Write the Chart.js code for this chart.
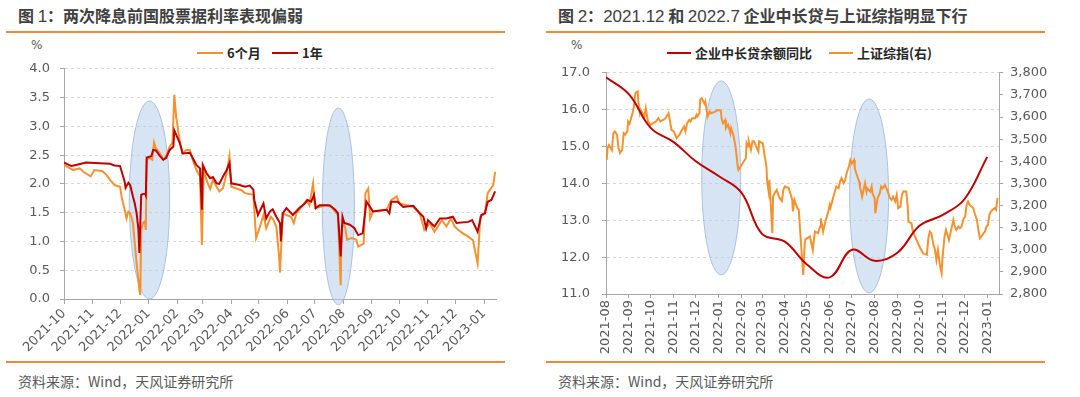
<!DOCTYPE html>
<html>
<head>
<meta charset="utf-8">
<script src="https://cdn.jsdelivr.net/npm/chart.js@4.4.0/dist/chart.umd.min.js"></script>
<style>
  body { margin:0; width:1080px; height:397px; background:#fff; position:relative; overflow:hidden;
         font-family:"Noto Sans CJK SC", sans-serif; }
  .title { position:absolute; top:4px; font-size:16px; font-weight:700; color:#3f3f3f; white-space:nowrap; line-height:22px; }
  .title .num { font-family:"Liberation Sans", sans-serif; font-weight:400; font-size:17px; }
  .rule { position:absolute; height:2px; background:#f0883a; }
  .src { position:absolute; top:371px; font-size:14px; color:#595959; white-space:nowrap; }
  .unit { position:absolute; top:38px; font-size:12px; color:#595959; font-family:"DejaVu Sans", sans-serif; }
  .lg { position:absolute; top:44px; font-size:13px; font-weight:700; color:#262626; white-space:nowrap;
        display:flex; align-items:center; line-height:18px; }
  .lg i { display:inline-block; width:26px; height:2px; margin-right:4px; }
  canvas { position:absolute; }
</style>
</head>
<body>
<div class="title" style="left:18px">图 <span class="num">1</span>：两次降息前国股票据利率表现偏弱</div>
<div class="title" style="left:558px">图 <span class="num">2</span>：<span class="num">2021.12</span> 和 <span class="num">2022.7</span> 企业中长贷与上证综指明显下行</div>
<div class="rule" style="left:6px;width:499px;top:31px"></div>
<div class="rule" style="left:546px;width:499px;top:31px"></div>

<div class="unit" style="left:31px">%</div>
<div class="unit" style="left:571px">%</div>
<div class="lg" style="left:197px"><i style="background:#f5922f"></i>6个月</div>
<div class="lg" style="left:272px"><i style="background:#c00000"></i>1年</div>
<div class="lg" style="left:667px"><i style="background:#c00000;width:24px"></i>企业中长贷余额同比</div>
<div class="lg" style="left:829px"><i style="background:#f5922f;width:24px"></i>上证综指(右)</div>

<canvas id="rates" width="540" height="309" style="left:0;top:51px"></canvas>
<canvas id="loans" width="540" height="307" style="left:540px;top:53px"></canvas>

<div class="rule" style="left:6px;width:499px;top:361px"></div>
<div class="rule" style="left:546px;width:499px;top:361px"></div>
<div class="src" style="left:18px">资料来源：Wind，天风证券研究所</div>
<div class="src" style="left:558px">资料来源：Wind，天风证券研究所</div>

<script>
// ---- 图1 data: 国股票据利率 (%) ----
const sixMonthDates = ['2021-10-01','2021-10-11','2021-10-18','2021-10-22','2021-10-30','2021-11-03','2021-11-12','2021-11-16','2021-11-20','2021-11-25',
  '2021-12-01','2021-12-03','2021-12-06','2021-12-08','2021-12-10','2021-12-12','2021-12-15','2021-12-17','2021-12-19','2021-12-22',
  '2021-12-23','2021-12-24','2021-12-26','2021-12-28','2021-12-29','2021-12-30','2022-01-02','2022-01-05','2022-01-07','2022-01-09',
  '2022-01-13','2022-01-17','2022-01-20','2022-01-24','2022-01-27','2022-01-29','2022-01-31','2022-02-04','2022-02-07','2022-02-11',
  '2022-02-15','2022-02-18','2022-02-22','2022-02-26','2022-02-28','2022-03-02','2022-03-05','2022-03-09','2022-03-12','2022-03-16',
  '2022-03-19','2022-03-23','2022-03-27','2022-03-30','2022-04-01','2022-04-12','2022-04-16','2022-04-25','2022-04-28','2022-05-01',
  '2022-05-06','2022-05-09','2022-05-14','2022-05-17','2022-05-20','2022-05-23','2022-05-24','2022-05-27','2022-05-31','2022-06-05',
  '2022-06-08','2022-06-11','2022-06-14','2022-06-22','2022-06-25','2022-06-29','2022-07-01','2022-07-06','2022-07-13','2022-07-19',
  '2022-07-23','2022-07-26','2022-07-29','2022-07-30','2022-08-01','2022-08-03','2022-08-05','2022-08-10','2022-08-15','2022-08-17',
  '2022-08-23','2022-08-25','2022-08-28','2022-08-30','2022-09-02','2022-09-17','2022-09-22','2022-09-28','2022-10-01','2022-10-16',
  '2022-10-23','2022-10-28','2022-11-03','2022-11-08','2022-11-16','2022-11-21','2022-11-26','2022-11-30','2022-12-04','2022-12-09',
  '2022-12-15','2022-12-20','2022-12-22','2022-12-25','2022-12-28','2023-01-02','2023-01-05','2023-01-11','2023-01-13'];
const sixMonthRates = [2.33,2.24,2.27,2.21,2.13,2.24,2.22,2.16,2.07,1.98,
  1.95,1.75,1.55,1.40,1.52,1.49,1.32,0.97,0.62,0.16,
  0.07,1.20,1.32,1.35,1.20,2.42,2.45,2.42,2.72,2.62,
  2.54,2.42,2.48,2.65,2.71,3.55,3.17,2.74,2.53,2.59,
  2.59,2.42,2.24,2.13,0.94,2.24,2.07,1.91,2.07,1.95,
  1.87,1.93,2.19,2.48,1.95,1.89,1.84,1.81,1.06,1.20,
  1.46,1.23,1.43,1.37,1.26,0.74,0.46,1.49,1.46,1.43,
  1.32,1.49,1.55,1.72,1.63,2.01,1.58,1.60,1.63,1.60,
  1.52,1.46,0.24,1.20,1.32,1.23,1.03,1.06,1.03,0.91,
  0.96,1.84,1.92,1.40,1.52,1.55,1.72,1.78,1.66,1.60,
  1.49,1.20,1.32,1.17,1.37,1.26,1.40,1.26,1.20,1.14,
  1.08,1.02,0.85,0.62,1.43,1.49,1.84,1.98,2.21];

const oneYearDates = ['2021-10-01','2021-10-09','2021-10-14','2021-10-25','2021-11-09','2021-11-20','2021-11-25','2021-12-01','2021-12-06','2021-12-07',
  '2021-12-10','2021-12-12','2021-12-15','2021-12-17','2021-12-19','2021-12-21','2021-12-22','2021-12-24','2021-12-28','2021-12-29',
  '2021-12-30','2022-01-04','2022-01-06','2022-01-09','2022-01-13','2022-01-17','2022-01-20','2022-01-24','2022-01-28','2022-01-29',
  '2022-02-04','2022-02-07','2022-02-15','2022-02-18','2022-02-22','2022-02-26','2022-02-28','2022-03-01','2022-03-05','2022-03-09',
  '2022-03-12','2022-03-16','2022-03-19','2022-03-23','2022-03-27','2022-03-30','2022-04-01','2022-04-10','2022-04-16','2022-04-21',
  '2022-04-25','2022-04-26','2022-04-30','2022-05-06','2022-05-09','2022-05-13','2022-05-16','2022-05-20','2022-05-24','2022-05-25',
  '2022-05-27','2022-05-31','2022-06-07','2022-06-14','2022-06-20','2022-06-23','2022-06-27','2022-06-30','2022-07-02','2022-07-06',
  '2022-07-17','2022-07-23','2022-07-26','2022-07-29','2022-07-31','2022-08-02','2022-08-08','2022-08-13','2022-08-17','2022-08-22',
  '2022-08-26','2022-08-30','2022-09-02','2022-09-17','2022-09-20','2022-09-22','2022-09-29','2022-10-05','2022-10-16','2022-10-23',
  '2022-10-27','2022-10-30','2022-11-01','2022-11-08','2022-11-14','2022-11-21','2022-11-28','2022-12-02','2022-12-15','2022-12-19',
  '2022-12-25','2022-12-29','2023-01-02','2023-01-05','2023-01-09','2023-01-13'];
const oneYearRates = [2.37,2.31,2.33,2.37,2.36,2.35,2.32,2.31,2.04,1.93,
  2.02,1.98,1.78,1.66,1.49,1.20,0.80,1.81,1.84,1.80,
  2.46,2.48,2.59,2.58,2.49,2.42,2.45,2.59,2.65,2.93,
  2.71,2.53,2.54,2.45,2.33,2.27,1.55,2.33,2.19,2.10,
  2.12,2.01,2.00,2.13,2.24,2.36,2.01,1.98,1.95,1.97,
  1.90,1.72,1.46,1.66,1.40,1.52,1.56,1.43,1.32,1.00,
  1.49,1.58,1.46,1.58,1.66,1.72,1.69,1.81,1.58,1.63,
  1.63,1.55,1.49,0.74,1.43,1.32,1.29,1.23,1.11,1.14,
  1.69,1.60,1.52,1.55,1.49,1.69,1.69,1.60,1.62,1.49,
  1.43,1.23,1.37,1.26,1.40,1.40,1.43,1.32,1.34,1.37,
  1.17,1.46,1.49,1.69,1.72,1.87];

const rateMonths = ['2021-10','2021-11','2021-12','2022-01','2022-02','2022-03','2022-04','2022-05',
  '2022-06','2022-07','2022-08','2022-09','2022-10','2022-11','2022-12','2023-01'];
const rateHighlights = [
  { from:'2021-12-11', to:'2022-01-24', low:0, high:3.44 },
  { from:'2022-07-09', to:'2022-08-13', low:-0.1, high:3.32 }
];

// ---- 图2 data ----
const loanMonths = ['2021-08','2021-09','2021-10','2021-11','2021-12','2022-01','2022-02','2022-03','2022-04',
  '2022-05','2022-06','2022-07','2022-08','2022-09','2022-10','2022-11','2022-12','2023-01'];
const loanGrowth = [16.88,16.42,15.50,15.12,14.60,14.20,13.75,12.63,12.42,
  11.80,11.45,12.20,11.90,12.12,12.85,13.14,13.57,14.72];

const sseDates = ['2021-08-02','2021-08-03','2021-08-05','2021-08-09','2021-08-11','2021-08-13','2021-08-16','2021-08-18','2021-08-20','2021-08-23',
  '2021-08-25','2021-08-27','2021-08-30','2021-08-31','2021-09-02','2021-09-06','2021-09-08','2021-09-10','2021-09-13','2021-09-14',
  '2021-09-16','2021-09-17','2021-09-22','2021-09-24','2021-09-27','2021-09-29','2021-09-30','2021-10-08','2021-10-11','2021-10-14',
  '2021-10-18','2021-10-21','2021-10-25','2021-10-27','2021-10-29','2021-11-01','2021-11-03','2021-11-05','2021-11-09','2021-11-11',
  '2021-11-15','2021-11-17','2021-11-19','2021-11-22','2021-11-24','2021-11-26','2021-11-30','2021-12-02','2021-12-03','2021-12-06',
  '2021-12-07','2021-12-09','2021-12-13','2021-12-14','2021-12-16','2021-12-17','2021-12-20','2021-12-22','2021-12-24','2021-12-28',
  '2021-12-30','2022-01-04','2022-01-05','2022-01-07','2022-01-10','2022-01-11','2022-01-14','2022-01-17','2022-01-18','2022-01-21',
  '2022-01-24','2022-01-25','2022-01-27','2022-01-28','2022-02-07','2022-02-08','2022-02-10','2022-02-11','2022-02-14','2022-02-16',
  '2022-02-18','2022-02-21','2022-02-24','2022-02-25','2022-02-28','2022-03-02','2022-03-04','2022-03-07','2022-03-08','2022-03-10',
  '2022-03-11','2022-03-15','2022-03-16','2022-03-18','2022-03-21','2022-03-23','2022-03-25','2022-03-28','2022-03-30','2022-04-01',
  '2022-04-06','2022-04-08','2022-04-11','2022-04-12','2022-04-14','2022-04-18','2022-04-20','2022-04-22','2022-04-26','2022-04-28',
  '2022-04-29','2022-05-05','2022-05-09','2022-05-11','2022-05-12','2022-05-16','2022-05-19','2022-05-20','2022-05-23','2022-05-26',
  '2022-05-30','2022-06-01','2022-06-02','2022-06-06','2022-06-08','2022-06-10','2022-06-13','2022-06-15','2022-06-17','2022-06-20',
  '2022-06-22','2022-06-24','2022-06-27','2022-06-29','2022-07-01','2022-07-04','2022-07-05','2022-07-07','2022-07-11','2022-07-12',
  '2022-07-15','2022-07-18','2022-07-19','2022-07-21','2022-07-22','2022-07-26','2022-07-28','2022-07-29','2022-08-01','2022-08-02',
  '2022-08-05','2022-08-08','2022-08-10','2022-08-12','2022-08-15','2022-08-18','2022-08-22','2022-08-24','2022-08-26','2022-08-29',
  '2022-08-31','2022-09-02','2022-09-05','2022-09-07','2022-09-09','2022-09-13','2022-09-15','2022-09-16','2022-09-20','2022-09-22',
  '2022-09-26','2022-09-28','2022-10-02','2022-10-06','2022-10-11','2022-10-13','2022-10-15','2022-10-17','2022-10-20','2022-10-22',
  '2022-10-24','2022-10-26','2022-10-29','2022-10-31','2022-11-01','2022-11-04','2022-11-06','2022-11-08','2022-11-10','2022-11-13',
  '2022-11-16','2022-11-18','2022-11-20','2022-11-23','2022-11-25','2022-11-27','2022-11-30','2022-12-02','2022-12-04','2022-12-06',
  '2022-12-08','2022-12-11','2022-12-13','2022-12-15','2022-12-18','2022-12-20','2022-12-22','2022-12-24','2022-12-27','2022-12-29',
  '2022-12-31','2023-01-02','2023-01-04','2023-01-06','2023-01-08','2023-01-11','2023-01-13','2023-01-15'];
const sseClose = [3406,3459,3473,3451,3527,3535,3520,3460,3437,3451,
  3527,3520,3535,3580,3570,3618,3648,3708,3716,3670,
  3618,3633,3602,3640,3580,3572,3565,3580,3595,3580,
  3588,3595,3618,3580,3542,3535,3520,3505,3520,3535,
  3557,3535,3570,3587,3580,3595,3595,3610,3602,3618,
  3678,3685,3660,3670,3625,3602,3625,3617,3620,3625,
  3632,3630,3595,3572,3587,3550,3565,3527,3550,3520,
  3467,3437,3376,3361,3414,3482,3467,3490,3452,3490,
  3490,3467,3444,3490,3485,3482,3437,3376,3308,3263,
  3316,3075,3240,3255,3271,3250,3233,3220,3271,3286,
  3280,3260,3225,3173,3225,3188,3180,3075,2886,3029,
  3047,3060,2999,3060,3082,3075,3105,3142,3082,3127,
  3173,3203,3190,3240,3263,3286,3278,3308,3323,3301,
  3316,3346,3376,3406,3390,3406,3369,3346,3308,3286,
  3240,3286,3301,3263,3278,3263,3286,3256,3233,3165,
  3233,3256,3286,3278,3293,3271,3233,3225,3240,3218,
  3248,3188,3195,3248,3263,3263,3195,3127,3120,3082,
  3052,3037,3007,2984,2977,3052,3082,3075,3022,3000,
  2954,3000,2924,2894,2954,3060,3090,3067,3044,3090,
  3135,3105,3090,3105,3097,3105,3142,3150,3203,3218,
  3203,3195,3188,3165,3135,3090,3052,3060,3075,3082,
  3105,3112,3158,3173,3180,3188,3180,3233];

const loanTickMonths = ['2021-08','2021-09','2021-10','2021-11','2021-12','2022-01','2022-02','2022-03','2022-04',
  '2022-05','2022-06','2022-07','2022-08','2022-09','2022-10','2022-11','2022-12','2023-01'];
const loanHighlights = [
  { from:'2021-12-09', to:'2022-01-31', low:11.52, high:16.78 },
  { from:'2022-06-28', to:'2022-08-20', low:11.03, high:16.29 }
];

// ---- helpers ----
function toDay(s) {
  const p = s.split('-').map(Number);
  return Date.UTC(p[0], p[1] - 1, p[2] || 1) / 86400000;
}
function monthLabel(v) {
  const d = new Date(v * 86400000);
  return d.getUTCFullYear() + '-' + String(d.getUTCMonth() + 1).padStart(2, '0');
}
function points(dates, vals) {
  return dates.map((d, i) => ({ x: toDay(d), y: vals[i] }));
}

const highlightPlugin = {
  id: 'highlight',
  beforeDatasetsDraw(chart, args, opts) {
    const ctx = chart.ctx, xs = chart.scales.x, ys = chart.scales.y;
    (opts.items || []).forEach(h => {
      const x1 = xs.getPixelForValue(toDay(h.from)), x2 = xs.getPixelForValue(toDay(h.to));
      const y1 = ys.getPixelForValue(h.high), y2 = ys.getPixelForValue(h.low);
      ctx.save();
      ctx.beginPath();
      ctx.ellipse((x1 + x2) / 2, (y1 + y2) / 2, (x2 - x1) / 2, (y2 - y1) / 2, 0, 0, Math.PI * 2);
      ctx.fillStyle = 'rgba(176,202,232,0.5)';
      ctx.fill();
      ctx.strokeStyle = 'rgba(150,180,215,0.75)';
      ctx.lineWidth = 1;
      ctx.stroke();
      ctx.restore();
    });
  }
};

Chart.defaults.font.family = '"DejaVu Sans", sans-serif';
Chart.defaults.font.size = 13;
Chart.defaults.color = '#595959';

const axisGrey = '#a6a6a6';
const gridGrey = '#d9d9d9';

// ---- 图1 ----
// note: chart top comes from tick label half-height + ticks.padding, so the canvas is shifted up instead
new Chart(document.getElementById('rates'), {
  type: 'line',
  data: {
    datasets: [
      { label: '1年', data: points(oneYearDates, oneYearRates), borderColor: '#c00000', borderWidth: 2, pointRadius: 0, tension: 0 },
      { label: '6个月', data: points(sixMonthDates, sixMonthRates), borderColor: '#f5922f', borderWidth: 2, pointRadius: 0, tension: 0 }
    ]
  },
  options: {
    responsive: false, animation: false, devicePixelRatio: 1,
    layout: { padding: { top: 1, right: 44, left: 0, bottom: 0 } },
    plugins: { legend: { display: false }, tooltip: { enabled: false }, highlight: { items: rateHighlights } },
    scales: {
      x: {
        type: 'linear',
        min: toDay('2021-10-01'), max: toDay('2023-01-14'),
        afterBuildTicks: s => { s.ticks = rateMonths.map(m => ({ value: toDay(m) })); },
        afterFit: s => { s.height = 61; },
        ticks: { autoSkip: false, minRotation: 45, maxRotation: 45, padding: 2, callback: v => monthLabel(v) },
        grid: { drawOnChartArea: false, drawTicks: true, tickLength: 5, tickColor: axisGrey },
        border: { color: axisGrey }
      },
      y: {
        min: 0, max: 4,
        afterFit: s => { s.width = 64; },
        ticks: { stepSize: 0.5, padding: 10, callback: v => v.toFixed(1) },
        grid: { color: gridGrey, tickColor: axisGrey, tickLength: 4 },
        border: { color: axisGrey, dash: [3, 3] }
      }
    }
  },
  plugins: [highlightPlugin]
});

// ---- 图2 ----
new Chart(document.getElementById('loans'), {
  type: 'line',
  data: {
    datasets: [
      { label: '企业中长贷余额同比', data: points(loanMonths, loanGrowth), yAxisID: 'y',
        borderColor: '#c00000', borderWidth: 2, pointRadius: 0, tension: 0.4 },
      { label: '上证综指(右)', data: points(sseDates, sseClose), yAxisID: 'y2',
        borderColor: '#f5922f', borderWidth: 2, pointRadius: 0, tension: 0 }
    ]
  },
  options: {
    responsive: false, animation: false, devicePixelRatio: 1,
    layout: { padding: { top: 1, right: 0, left: 0, bottom: 0 } },
    plugins: { legend: { display: false }, tooltip: { enabled: false }, highlight: { items: loanHighlights } },
    scales: {
      x: {
        type: 'linear',
        min: toDay('2021-08-01'), max: toDay('2023-01-17'),
        afterBuildTicks: s => { s.ticks = loanTickMonths.map(m => ({ value: toDay(m) })); },
        afterFit: s => { s.height = 66; },
        ticks: { autoSkip: false, minRotation: 90, maxRotation: 90, padding: 2, callback: v => monthLabel(v) },
        grid: { drawOnChartArea: false, drawTicks: true, tickLength: 4, tickColor: axisGrey },
        border: { color: axisGrey }
      },
      y: {
        position: 'left', min: 11, max: 17,
        afterFit: s => { s.width = 66; },
        ticks: { stepSize: 1, padding: 12, callback: v => v.toFixed(1) },
        grid: { color: gridGrey, tickColor: axisGrey, tickLength: 4 },
        border: { color: axisGrey, dash: [3, 3] }
      },
      y2: {
        position: 'right', min: 2800, max: 3800,
        afterFit: s => { s.width = 81; },
        ticks: { stepSize: 100, padding: 7, callback: v => v.toLocaleString('en-US') },
        grid: { drawOnChartArea: false, tickColor: axisGrey, tickLength: 4 },
        border: { color: axisGrey }
      }
    }
  },
  plugins: [highlightPlugin]
});
</script>
</body>
</html>
